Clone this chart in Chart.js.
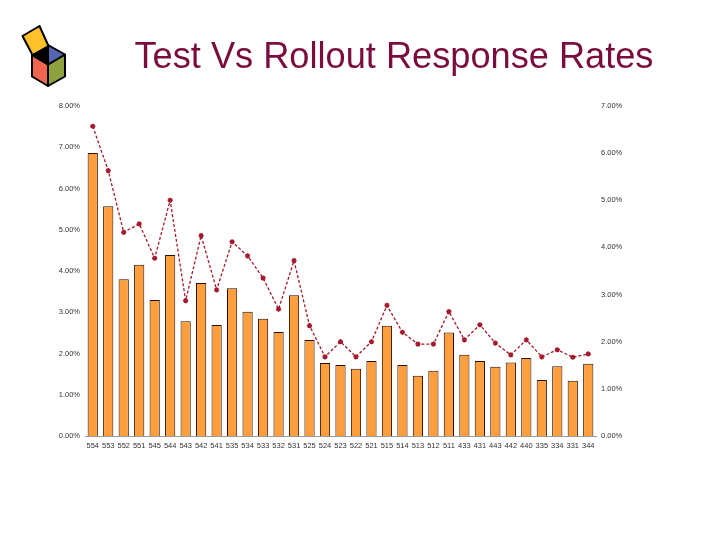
<!DOCTYPE html>
<html>
<head>
<meta charset="utf-8">
<script src="https://cdn.jsdelivr.net/npm/chart.js@4"></script>
<style>
  html, body { margin:0; padding:0; background:#fff; }
  #wrap { position:relative; width:720px; height:540px; overflow:hidden; }
  #title { position:absolute; left:0; width:788px; top:35px; text-align:center; white-space:nowrap;
           font-family:"Liberation Sans", Arial, sans-serif; font-size:36.2px; color:#7a0c3e; }
  #logo { position:absolute; left:0; top:0; }
  canvas { position:absolute; left:0; top:0; }
</style>
</head>
<body>
<div id="wrap">
  <canvas id="c" width="720" height="540"></canvas>
  <svg id="logo" width="100" height="100" viewBox="0 0 100 100">
    <g stroke="#000" stroke-width="2" stroke-linejoin="round">
      <polygon points="32,55 48,64.5 48,86 32,76.5" fill="#f0654f"/>
      <polygon points="48,64.5 65,54.5 65,76.5 48,86" fill="#8da23f"/>
      <polygon points="32,55 48,45 48,64.5" fill="#000"/>
      <polygon points="48,45 65,54.5 48,64.5" fill="#5566b0"/>
      <polygon points="22.5,36 39.5,26 48.5,46 32.5,55" fill="#ffc12a"/>
    </g>
  </svg>
  <div id="title">Test Vs Rollout Response Rates</div>
</div>
<script>
const categories = ["554","553","552","551","545","544","543","542","541","535","534","533","532","531","525","524","523","522","521","515","514","513","512","511","433","431","443","442","440","335","334","331","344"];
const barValues = [6.86,5.57,3.80,4.15,3.30,4.39,2.78,3.71,2.69,3.58,3.01,2.84,2.52,3.41,2.33,1.77,1.72,1.63,1.82,2.67,1.72,1.46,1.58,2.51,1.97,1.82,1.68,1.78,1.89,1.36,1.69,1.34,1.75];
const lineValues = [6.57,5.63,4.32,4.50,3.77,5.00,2.87,4.25,3.10,4.12,3.82,3.35,2.69,3.72,2.34,1.68,2.00,1.68,2.00,2.77,2.20,1.95,1.95,2.64,2.04,2.36,1.97,1.72,2.04,1.68,1.83,1.67,1.74];
const leftTicks = {min:0, max:8, step:1};
const rightTicks = {min:0, max:7, step:1};

const tickFont = {family:"Liberation Sans, Arial, sans-serif", size:7.5};
const pct = v => Number(v).toFixed(2) + "%";

new Chart(document.getElementById("c"), {
  data: {
    labels: categories,
    datasets: [
      {
        type: "line",
        label: "Rollout",
        data: lineValues,
        yAxisID: "y2",
        borderColor: "#a31a2e",
        backgroundColor: "#a31a2e",
        borderWidth: 1.3,
        borderDash: [3, 2],
        pointStyle: "star",
        pointRadius: 2.6,
        pointBorderWidth: 1.4,
        pointBorderColor: "#a31a2e",
        tension: 0,
        order: 0
      },
      {
        type: "bar",
        label: "Test",
        data: barValues,
        yAxisID: "y",
        backgroundColor: "#ff9e3d",
        borderColor: "#2a0e00",
        borderWidth: 1,
        borderSkipped: "bottom",
        categoryPercentage: 1.0,
        barPercentage: 0.66,
        order: 1
      }
    ]
  },
  options: {
    responsive: false,
    animation: false,
    layout: { padding: { left: 0, right: 0, top: 106, bottom: 0 } },
    plugins: { legend: { display: false }, title: { display: false }, tooltip: { enabled: false } },
    scales: {
      x: {
        offset: true,
        grid: { display: false, drawTicks: false },
        border: { display: true, color: "#999" },
        ticks: { font: tickFont, color: "#333", autoSkip: false, maxRotation: 0, minRotation: 0, padding: 5 },
        afterFit: s => { s.height = 104; }
      },
      y: {
        position: "left",
        min: leftTicks.min, max: leftTicks.max,
        grid: { display: false, drawTicks: false },
        border: { display: false },
        ticks: { stepSize: leftTicks.step, font: tickFont, color: "#333", callback: pct, padding: 5 },
        afterFit: s => { s.width = 85; }
      },
      y2: {
        position: "right",
        min: rightTicks.min, max: rightTicks.max,
        grid: { display: false, drawTicks: false },
        border: { display: false },
        ticks: { stepSize: rightTicks.step, font: tickFont, color: "#333", callback: pct, padding: 5 },
        afterFit: s => { s.width = 124; }
      }
    }
  }
});
</script>
</body>
</html>
